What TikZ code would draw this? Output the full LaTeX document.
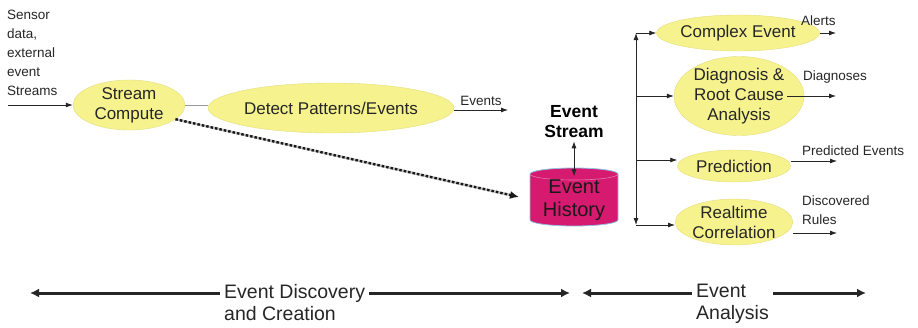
\documentclass[tikz,border=0pt]{standalone}
\usepackage{fontspec}
\setmainfont{Liberation Sans}
\usepackage{tikz}
\usepackage{xcolor}
\usetikzlibrary{shapes.geometric,arrows.meta}

\definecolor{ellfill}{HTML}{F6F38F}
\definecolor{elledge}{HTML}{E4DD7A}
\definecolor{histfill}{HTML}{D61A70}
\definecolor{histedge}{HTML}{8FC2E4}

\begin{document}
\begin{tikzpicture}[x=1pt,y=-1pt,
  >={Latex[length=7pt,width=5pt]},
  proc/.style={ellipse,fill=ellfill,draw=elledge,inner sep=0pt,align=center,
    text=black!85,font=\fontsize{17}{20}\selectfont},
  lbl/.style={inner sep=0pt,align=left,text=black!85,font=\fontsize{13.5}{19}\selectfont},
  flow/.style={->,line width=0.8pt,black!85},
  phase/.style={line width=3pt,black!85,-{Latex[length=9pt,width=9pt]}},
  phaselbl/.style={inner sep=4pt,align=left,text=black!85,font=\fontsize{19.5}{22}\selectfont}]
\useasboundingbox (0,0) rectangle (918,327);

% input streams and the first operators
\node[lbl,anchor=north west] (src) at (7,10) {Sensor\\data,\\external\\event\\Streams};
\node[proc,minimum width=112,minimum height=42] (compute) at (129,105) {Stream\\Compute};
\node[proc,minimum width=198,minimum height=50] (detect) at (331,108) {Detect Patterns/Events};
\coordinate (srcin) at (8,105);
\draw[flow] (srcin) -- (compute.west);
\draw[gray!80,line width=0.8pt] (compute.east) -- (compute.east -| detect.west);

\coordinate (evout) at (508,110);
\draw[flow] (detect.east |- evout) -- (evout) node[lbl,midway,above=4pt] (events) {Events};

% history store
\filldraw[fill=histfill,draw=histedge,line width=0.8pt]
  (530,174) -- (530,220) arc[start angle=180,end angle=360,x radius=44pt,y radius=6pt]
  -- (618,174) arc[start angle=0,end angle=180,x radius=44pt,y radius=6pt] -- cycle;
\draw[histfill!60!white,line width=0.6pt] (530,174) arc[start angle=180,end angle=360,x radius=44pt,y radius=6pt];
\node[inner sep=0pt,align=center,text=black!90,font=\fontsize{20}{23}\selectfont] (hist) at (574,200) {Event\\History};
\node[inner sep=0pt,align=center,font=\bfseries\fontsize{17.5}{20}\selectfont] (stream) at (574,122) {Event\\Stream};
\draw[flow,<->] ([yshift=-3pt]stream.south) -- ([yshift=3pt]hist.north);

\coordinate (histin) at (519,197);
\draw[line width=2.4pt,black!25,shorten >=7pt] (compute.-17) -- (histin);
\draw[line width=2.4pt,black!90,dash pattern=on 2.5pt off 2pt,-{Latex[length=9pt,width=8pt]}] (compute.-17) -- (histin);

% analysis branches
\node[proc,minimum width=124,minimum height=36] (complex) at (738,33) {Complex Event};
\node[proc,minimum width=130,minimum height=66] (diag) at (739,96) {Diagnosis \&\\Root Cause\\Analysis};
\node[proc,minimum width=113,minimum height=32] (pred) at (734,166) {Prediction};
\node[proc,minimum width=113,minimum height=40] (corr) at (734,222) {Realtime\\Correlation};

\coordinate (bustop) at (636,33);
\coordinate (busbot) at (636,225);
\draw[flow,<->] (bustop) -- (busbot);
\draw[flow] (bustop) -- (complex.west);
\draw[flow] (bustop |- diag) -- (diag.west);
\coordinate (busp) at (636,160);
\draw[flow] (busp) -- (busp -| pred.west);
\draw[flow] (busbot) -- (busbot -| corr.west);

% outputs
\coordinate (o1) at (836,33);
\coordinate (o2) at (836,96);
\coordinate (o3) at (837,161);
\coordinate (o4) at (837,233);
\draw[flow] (complex.east) -- (o1);
\draw[flow] ([xshift=-17pt]diag.east) -- (o2);
\draw[flow] (pred.east |- o3) -- (o3);
\draw[flow] (corr.east |- o4) -- (o4);
\node[lbl,anchor=base west] (alerts) at (801,25) {Alerts};
\node[lbl,anchor=base west] (diagout) at (803,80) {Diagnoses};
\node[lbl,anchor=base west] (predout) at (802,155) {Predicted Events};
\node[lbl,anchor=north west] (rules) at (802,196) {Discovered\\Rules};

% phases
\node[phaselbl,anchor=north west] (disc) at (220,280) {Event Discovery\\and Creation};
\node[phaselbl,anchor=north west] (ana) at (692,280) {Event\\Analysis};
\coordinate (dl) at (30,293);
\coordinate (dr) at (570,293);
\coordinate (al) at (582,293);
\coordinate (ar) at (866,293);
\draw[phase] (dl -| disc.west) -- (dl);
\draw[phase] (dr -| disc.east) -- (dr);
\draw[phase] (al -| ana.west) -- (al);
\draw[phase] (ar -| ana.east) -- (ar);

\end{tikzpicture}
\end{document}
